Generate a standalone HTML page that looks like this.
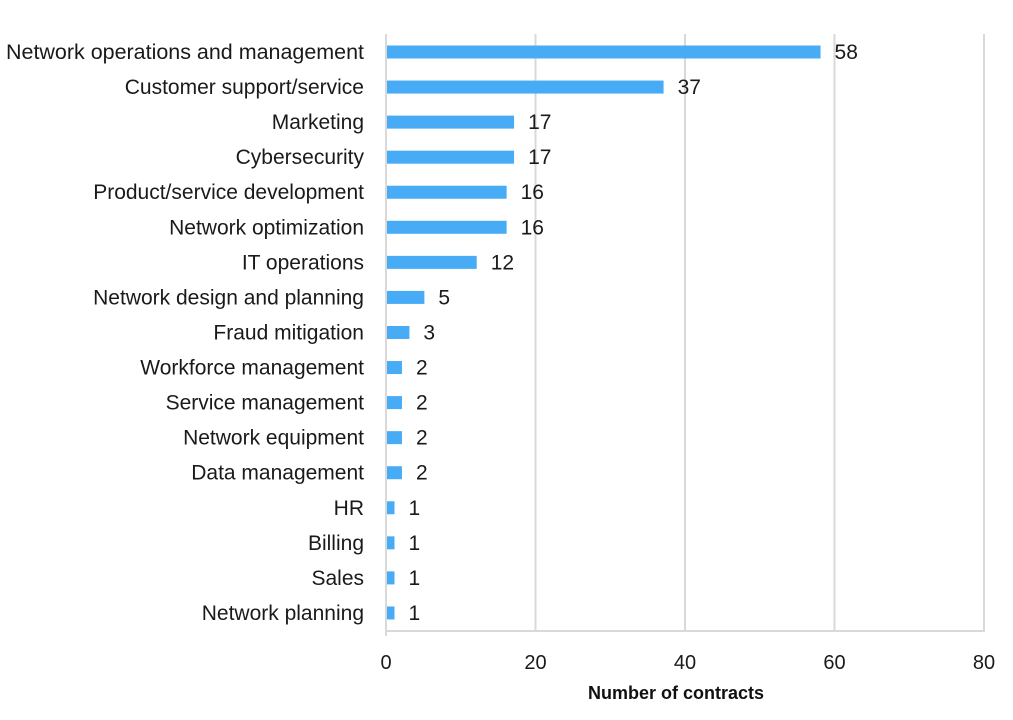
<!DOCTYPE html>
<html><head><meta charset="utf-8"><style>body{margin:0;background:#fff}svg{display:block}</style></head>
<body>
<svg width="1013" height="720" xmlns="http://www.w3.org/2000/svg" font-family="Liberation Sans, sans-serif">
<g stroke="#d9d9d9" stroke-width="2">
<line x1="535.5" y1="34" x2="535.5" y2="631"/>
<line x1="685" y1="34" x2="685" y2="631"/>
<line x1="834.5" y1="34" x2="834.5" y2="631"/>
<line x1="984" y1="34" x2="984" y2="631"/>
<line x1="386" y1="631" x2="985" y2="631"/>
<line x1="386" y1="34" x2="386" y2="636"/>
</g>
<g id="bars" fill="#47abf5"></g>
<g id="labels" font-size="21" fill="#1a1a1a" text-anchor="end"></g>
<g id="vals" font-size="21" fill="#1a1a1a"></g>
<g font-size="20" fill="#1a1a1a" text-anchor="middle">
<text x="386" y="669">0</text><text x="535.5" y="669">20</text><text x="685" y="669">40</text><text x="834.5" y="669">60</text><text x="984" y="669">80</text>
</g>
<text x="676" y="699" font-size="18" font-weight="bold" text-anchor="middle" fill="#111">Number of contracts</text>
<script>
var d=[["Network operations and management",58],["Customer support/service",37],["Marketing",17],["Cybersecurity",17],["Product/service development",16],["Network optimization",16],["IT operations",12],["Network design and planning",5],["Fraud mitigation",3],["Workforce management",2],["Service management",2],["Network equipment",2],["Data management",2],["HR",1],["Billing",1],["Sales",1],["Network planning",1]];
var ns="http://www.w3.org/2000/svg",s=7.475;
d.forEach(function(r,i){var c=52+i*35.06;
var b=document.createElementNS(ns,"rect");b.setAttribute("x",387);b.setAttribute("y",c-6.5);b.setAttribute("width",r[1]*s);b.setAttribute("height",13);document.getElementById("bars").appendChild(b);
var t=document.createElementNS(ns,"text");t.setAttribute("x",364);t.setAttribute("y",c+7);t.textContent=r[0];if(i==0){t.setAttribute("textLength",358);t.setAttribute("lengthAdjust","spacingAndGlyphs");}document.getElementById("labels").appendChild(t);
var v=document.createElementNS(ns,"text");v.setAttribute("x",387+r[1]*s+14);v.setAttribute("y",c+7);v.textContent=r[1];document.getElementById("vals").appendChild(v);});
</script>
</svg>
</body></html>
